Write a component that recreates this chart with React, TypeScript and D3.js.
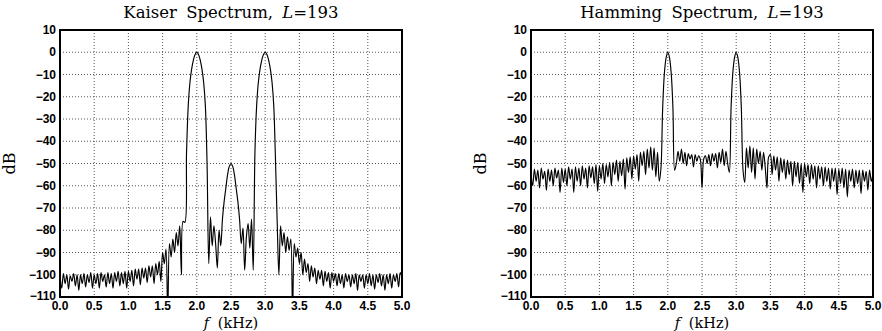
import React from "react";
import * as d3 from "d3";

// Frequency grid (kHz), 0 … 5 in 0.025 kHz steps
const freqs: number[] = d3.range(201).map((i) => i * 0.025);

// Kaiser window spectrum (dB) at each grid frequency
const kaiserDb: number[] = [
  -100, -106, -99.5, -104, -100, -106.5, -100.5, -103, -99.5, -105,
  -100, -107, -100, -104, -99.5, -105.5, -100, -103.5, -99, -106,
  -100, -104, -99.5, -106, -99, -103, -100, -105.5, -99, -104,
  -99.5, -106, -99, -103, -98.5, -105, -99, -104, -98.5, -106,
  -98.5, -103, -98, -105, -97.5, -102, -97.5, -104.5, -97, -101.5,
  -97, -103.5, -96, -101, -96, -104, -95, -100, -94, -103,
  -90, -95, -88.5, -118, -86, -92, -84, -90, -81, -87,
  -78, -100, -76, -76.5, -45, -24, -13.5, -7.5, -3.5, -1,
  0, -1, -3.5, -7.5, -13.5, -24, -50, -95, -74, -87,
  -78, -86, -97, -80, -87, -75, -67, -61, -55, -51.3,
  -50, -51.3, -55, -61, -67, -75, -86, -79, -98, -83,
  -77, -88, -75, -98, -45, -24, -13.5, -7.5, -3.5, -1,
  0, -1, -3.5, -7.5, -13.5, -24, -48, -76, -100, -78,
  -87, -81, -90, -83, -89, -84, -118, -86, -92, -88,
  -95, -90, -100, -93, -99, -95, -103, -96, -101, -97,
  -104, -98, -102, -98, -105, -98.5, -103, -99, -106, -99,
  -103, -99.5, -105, -99.5, -104, -100, -106, -99.5, -103, -100,
  -105.5, -100, -104, -99.5, -107, -100, -103, -100, -106, -100,
  -104, -99.5, -105, -100, -106.5, -100, -103.5, -99.5, -105, -100,
  -107, -100, -104, -99.5, -106, -100, -103, -99.5, -105.5, -99,
  -101,
];

// Hamming window spectrum (dB) at each grid frequency
const hammingDb: number[] = [
  -54, -60, -52.5, -58, -53, -61, -52, -57, -53.5, -62,
  -52.5, -58, -53, -60, -52, -56.5, -53, -63, -52, -58.5,
  -52.5, -60, -51.5, -57, -52.5, -63, -51.5, -58, -52, -60,
  -51, -57, -52, -61, -51, -56.5, -51.5, -59, -50.5, -62.5,
  -51, -57, -50, -59, -50.5, -56, -49.5, -60, -49.5, -55,
  -48.5, -58, -49, -55.5, -48, -61.5, -47.5, -54, -47, -57,
  -46.5, -52.5, -46, -58, -45, -51, -44.5, -55, -43.5, -52,
  -42.5, -53, -43, -56, -45, -58, -52, -25, -9.5, -2.5,
  0, -2.5, -9.5, -25, -53, -50, -44.5, -49, -43.5, -50,
  -45, -51, -45.5, -48, -46, -51.5, -46, -49, -46.5, -48,
  -61, -48, -46.5, -50, -46, -51, -45.5, -49, -45.5, -52,
  -45, -49.5, -43.5, -51, -44.5, -50, -54, -25, -9.5, -2.5,
  0, -2.5, -9.5, -25, -53, -58.5, -43, -52, -42, -54,
  -43, -57, -43.5, -50, -44.5, -53, -45, -52, -61, -47,
  -46, -55, -46.5, -53, -47, -58, -47.5, -54, -48, -57,
  -48.5, -55, -49, -60, -49, -56, -49.5, -59, -50, -63,
  -50, -56, -50.5, -59, -50.5, -57, -51, -61, -51, -57,
  -51.5, -60, -51.5, -58, -52, -61.5, -52, -58, -52, -64,
  -52.5, -59, -52, -61, -52.5, -65, -53, -58, -52.5, -61,
  -53, -59, -53, -63.5, -53, -58, -53.5, -62, -53, -58,
  -54,
];

const xTicks: number[] = [0, 0.5, 1, 1.5, 2, 2.5, 3, 3.5, 4, 4.5, 5];
const yTicks: number[] = [10, 0, -10, -20, -30, -40, -50, -60, -70, -80, -90, -100, -110];

const panels = [
  { id: "kaiser", name: "Kaiser", values: kaiserDb, left: 60, right: 402 },
  { id: "hamming", name: "Hamming", values: hammingDb, left: 531, right: 873 },
];

const TOP = 30;
const BOTTOM = 297;
const serif = "'DejaVu Serif', 'Liberation Serif', serif";
const sans = "'Liberation Sans', Arial, sans-serif";

const fmtY = (v: number) => (v < 0 ? "\u2212" + Math.abs(v) : String(v));
const fmtX = d3.format(".1f");

function Panel({ p }: { p: (typeof panels)[number] }) {
  const x = d3.scaleLinear().domain([0, 5]).range([p.left, p.right]);
  const y = d3.scaleLinear().domain([-110, 10]).range([BOTTOM, TOP]);
  const line = d3
    .line<number>()
    .x((_, i) => x(freqs[i]))
    .y((d) => y(d))
    .curve(d3.curveCatmullRom.alpha(0.5));
  const cx = (p.left + p.right) / 2;
  return (
    <g>
      <defs>
        <clipPath id={"clip-" + p.id}>
          <rect x={p.left} y={TOP} width={p.right - p.left} height={BOTTOM - TOP} />
        </clipPath>
      </defs>
      {xTicks.map((t) => (
        <line
          key={"gx" + t}
          x1={x(t)}
          x2={x(t)}
          y1={TOP}
          y2={BOTTOM}
          stroke="#555"
          strokeWidth={1}
          strokeDasharray="1,2"
        />
      ))}
      {yTicks.map((t) => (
        <line
          key={"gy" + t}
          x1={p.left}
          x2={p.right}
          y1={y(t)}
          y2={y(t)}
          stroke="#555"
          strokeWidth={1}
          strokeDasharray="1,2"
        />
      ))}
      <path
        d={line(p.values) || ""}
        fill="none"
        stroke="#000"
        strokeWidth={1.15}
        strokeLinejoin="round"
        clipPath={`url(#clip-${p.id})`}
      />
      <rect
        x={p.left}
        y={TOP}
        width={p.right - p.left}
        height={BOTTOM - TOP}
        fill="none"
        stroke="#000"
        strokeWidth={2}
      />
      {yTicks.map((t) => (
        <text
          key={"ly" + t}
          x={p.left - 4}
          y={y(t) + (t === -110 ? 2.5 : 4)}
          textAnchor="end"
          fontFamily={sans}
          fontWeight="bold"
          fontSize={12}
          fill="#000"
        >
          {fmtY(t)}
        </text>
      ))}
      {xTicks.map((t) => (
        <text
          key={"lx" + t}
          x={x(t)}
          y={BOTTOM + 13}
          textAnchor="middle"
          fontFamily={sans}
          fontWeight="bold"
          fontSize={12}
          fill="#000"
        >
          {fmtX(t)}
        </text>
      ))}
      <text
        x={cx}
        y={18}
        textAnchor="middle"
        fontFamily={serif}
        fontSize={16.5}
        fill="#000"
        style={{ wordSpacing: "4px" }}
      >
        {p.name + " Spectrum, "}
        <tspan fontStyle="italic">L</tspan>
        {"=193"}
      </text>
      <text
        x={cx}
        y={328}
        textAnchor="middle"
        fontFamily={serif}
        fontSize={14.5}
        fill="#000"
        style={{ wordSpacing: "4px" }}
      >
        <tspan fontStyle="italic">f</tspan>
        {" (kHz)"}
      </text>
      <text
        transform={`translate(${p.left - 45},${(TOP + BOTTOM) / 2}) rotate(-90)`}
        textAnchor="middle"
        fontFamily={serif}
        fontSize={16}
        fill="#000"
      >
        dB
      </text>
    </g>
  );
}

export default function App() {
  return (
    <svg
      width={882}
      height={331}
      style={{ position: "absolute", left: 0, top: 0, background: "#fff" }}
    >
      <rect x={0} y={0} width={882} height={331} fill="#fff" />
      {panels.map((p) => (
        <Panel key={p.id} p={p} />
      ))}
    </svg>
  );
}
